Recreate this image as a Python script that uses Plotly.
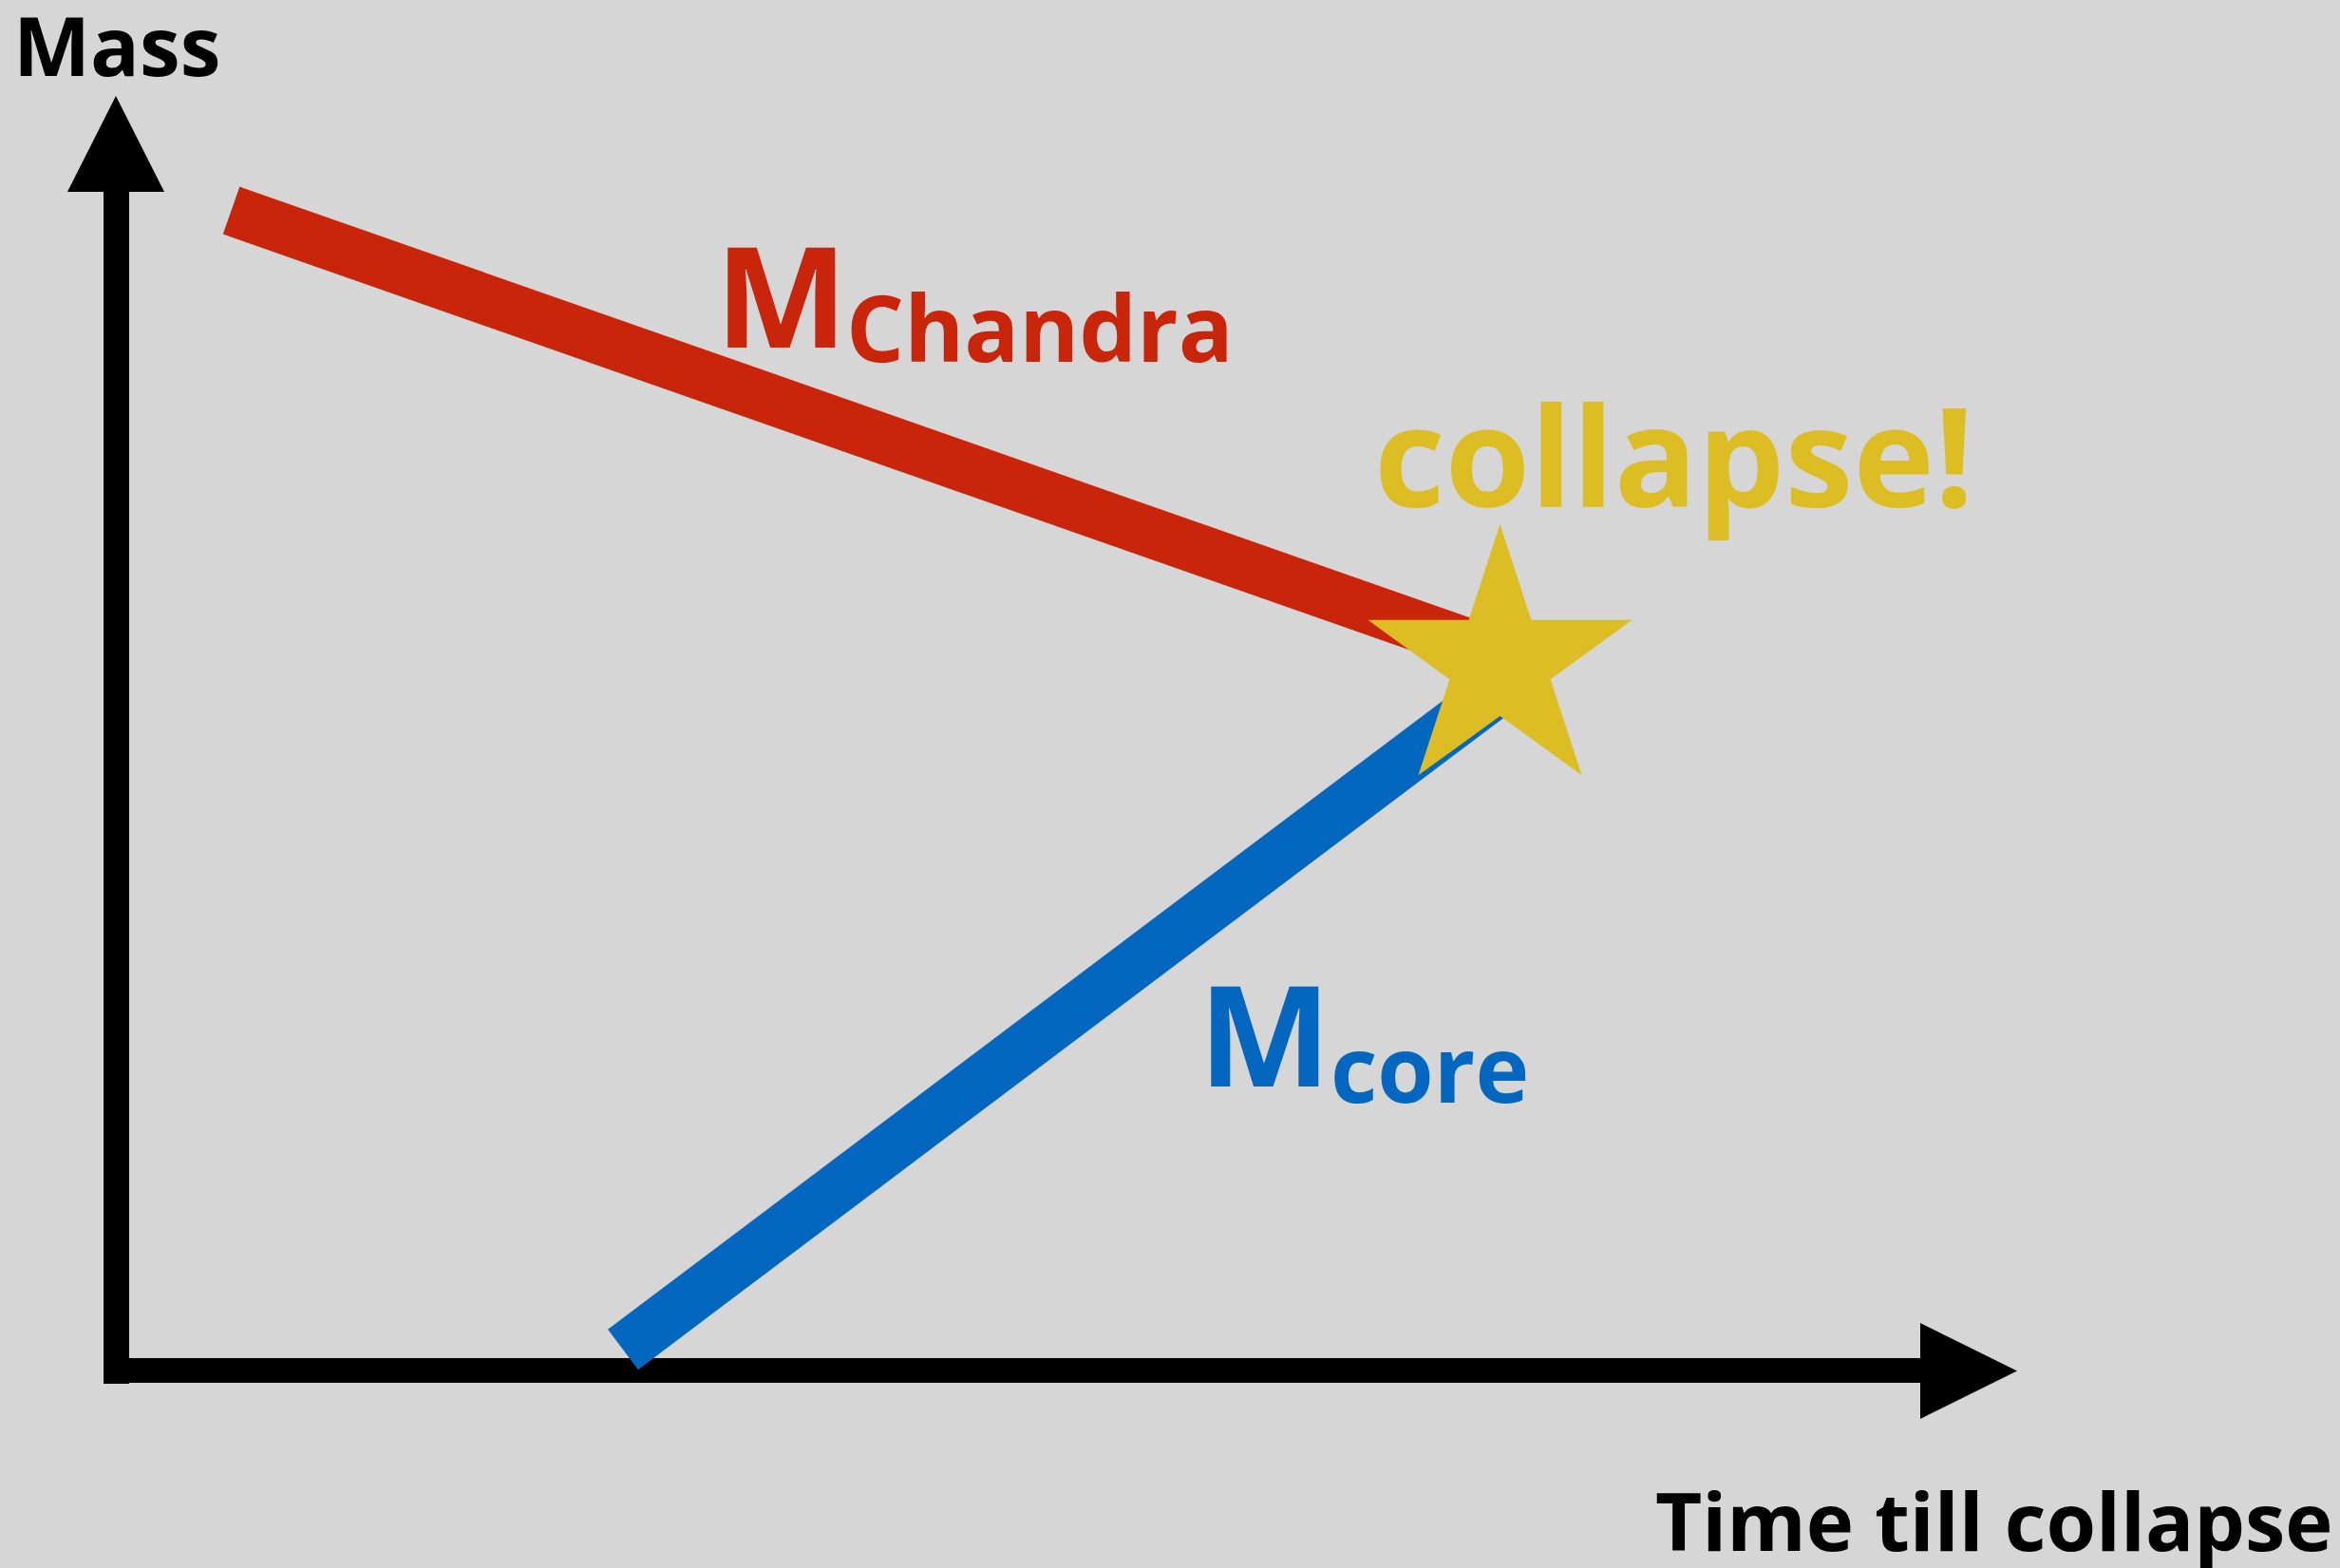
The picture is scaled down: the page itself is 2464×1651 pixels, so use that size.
import plotly.graph_objects as go

# ---- data (diagram coordinates: x to the right, y downward) ----
# M_Chandra falls slowly with time; M_core rises until they meet -> collapse
chandra_x = [243.6, 1575]
chandra_y = [221.6, 688]
core_x = [656, 1575]
core_y = [1421, 729]
collapse_x = [1579.5]
collapse_y = [698]

# axes (shafts and arrow heads)
yaxis_x = [122.5, 122.5]
yaxis_y = [1457, 202]
xaxis_x = [109, 2022]
xaxis_y = [1443, 1443]
yhead_x = [71, 173, 122]
yhead_y = [202, 202, 101]
xhead_x = [2022, 2022, 2124]
xhead_y = [1393, 1494, 1443.5]

# labels
axis_labels = ["Mass", "Time till collapse"]
series_labels = ["M", "Chandra", "M", "core", "collapse!"]

BG = "#D6D6D6"
RED = "#C8250A"
BLUE = "#0467BF"
GOLD = "#DCBE24"
FONT = "Open Sans"

W, H = 2464, 1651

fig = go.Figure()

# axes
fig.add_trace(go.Scatter(x=yaxis_x, y=yaxis_y, mode="lines",
                         line=dict(color="black", width=27), hoverinfo="skip"))
fig.add_trace(go.Scatter(x=xaxis_x, y=xaxis_y, mode="lines",
                         line=dict(color="black", width=26), hoverinfo="skip"))
fig.add_trace(go.Scatter(x=yhead_x, y=yhead_y, mode="lines", fill="toself",
                         fillcolor="black", line=dict(width=0, color="black"),
                         hoverinfo="skip"))
fig.add_trace(go.Scatter(x=xhead_x, y=xhead_y, mode="lines", fill="toself",
                         fillcolor="black", line=dict(width=0, color="black"),
                         hoverinfo="skip"))

# series
fig.add_trace(go.Scatter(x=chandra_x, y=chandra_y, mode="lines",
                         line=dict(color=RED, width=53), hoverinfo="skip"))
fig.add_trace(go.Scatter(x=core_x, y=core_y, mode="lines",
                         line=dict(color=BLUE, width=53), hoverinfo="skip"))

# collapse star
fig.add_trace(go.Scatter(x=collapse_x, y=collapse_y, mode="markers",
                         marker=dict(symbol="star", size=209, color=GOLD,
                                     line=dict(width=0)),
                         hoverinfo="skip"))


def label(text, x, y, size, color):
    fig.add_annotation(text=text, x=x, y=y, xref="x", yref="y",
                       xanchor="left", yanchor="middle", showarrow=False,
                       font=dict(family=FONT, size=size, color=color,
                                 weight="bold"))


label(axis_labels[0], 12, 46, 86, "black")
label(axis_labels[1], 1741, 1600, 85, "black")
label(series_labels[0], 751, 308.6, 148, RED)
label(series_labels[1], 889, 343, 96, RED)
label(series_labels[2], 1260, 1086.6, 148, BLUE)
label(series_labels[3], 1399, 1123, 96, BLUE)
label(series_labels[4], 1445, 477, 145, GOLD)

fig.update_layout(
    width=W, height=H,
    margin=dict(l=0, r=0, t=0, b=0, pad=0),
    paper_bgcolor=BG, plot_bgcolor=BG,
    showlegend=False,
    xaxis=dict(range=[0, W], visible=False, fixedrange=True),
    yaxis=dict(range=[H, 0], visible=False, fixedrange=True),
)

fig.write_html("out.html", config={"displayModeBar": False},
               post_script="document.body.style.margin='0';"
                           "document.body.style.overflow='hidden';")
